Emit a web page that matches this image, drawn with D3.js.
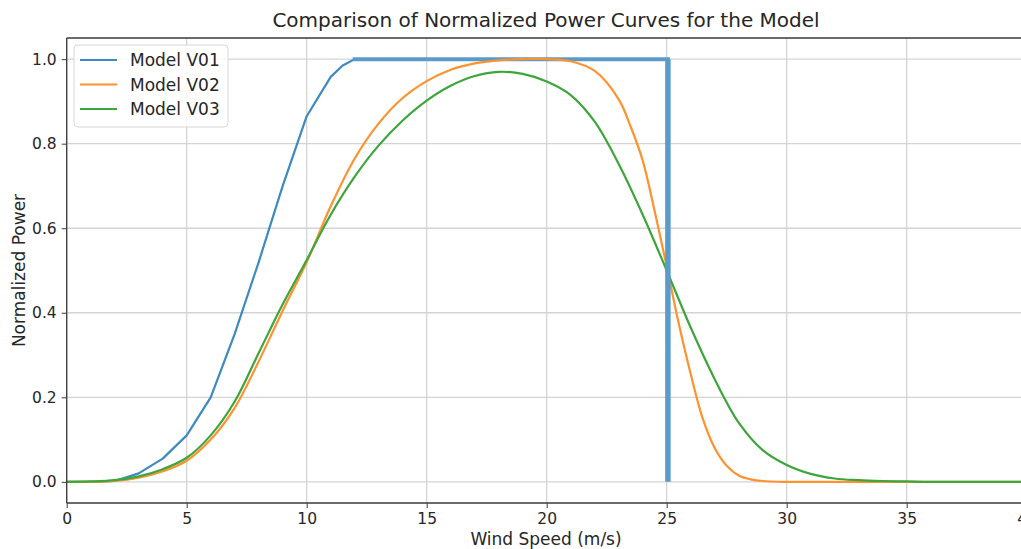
<!DOCTYPE html>
<html>
<head>
<meta charset="utf-8">
<script src="https://cdn.jsdelivr.net/npm/d3@7"></script>
<style>
  html, body { margin: 0; padding: 0; background: #fff; overflow: hidden; }
  svg { display: block; font-family: "DejaVu Sans", sans-serif; }
  .axis text { fill: #262626; font-size: 15.5px; font-family: "DejaVu Sans", sans-serif; }
  .axis .domain { display: none; }
  .axis .tick line { stroke: #3a3a3a; stroke-width: 1; }
  .grid line { stroke: #d4d4d4; stroke-width: 1.3; }
  .spine { stroke: #3a3a3a; stroke-width: 1.3; }
  .label { fill: #262626; font-size: 17px; }
  .title { fill: #262626; font-size: 20px; }
  .legend-text { fill: #262626; font-size: 17px; }
</style>
</head>
<body>
<svg id="chart"></svg>
<script>
const TITLE = "Comparison of Normalized Power Curves for the Model";
const X_LABEL = "Wind Speed (m/s)";
const Y_LABEL = "Normalized Power";

const SERIES_NAMES = ["Model V01", "Model V02", "Model V03"];
const SERIES_COLORS = ["#3d8ac2", "#ff922f", "#3ca63c"];

const X_TICKS = [0, 5, 10, 15, 20, 25, 30, 35, 40];
const Y_TICKS = [0.0, 0.2, 0.4, 0.6, 0.8, 1.0];

// Model V01: piecewise ramp, rated plateau, hard cut-out
const V01_SPEED = [0, 1, 2, 3, 4, 5, 6, 7, 8, 9, 10, 11, 11.5, 12, 25.05, 25.05];
const V01_POWER = [0, 0, 0.002, 0.02, 0.055, 0.11, 0.2, 0.35, 0.52, 0.7, 0.865, 0.958, 0.985, 1.0, 1.0, 0];

// Model V02: flat-topped curve
const V02_SPEED = [0, 1, 2, 3, 4, 5, 6, 7, 8, 9, 10, 11, 12, 13, 14, 15, 16, 17, 18, 19, 20, 21, 22, 23, 23.5, 24, 24.5, 25, 25.5, 26, 26.5, 27, 27.5, 28, 28.5, 29, 30, 32, 35, 40];
const V02_POWER = [0, 0, 0.002, 0.01, 0.025, 0.05, 0.1, 0.175, 0.285, 0.405, 0.52, 0.652, 0.765, 0.848, 0.908, 0.948, 0.975, 0.99, 0.997, 1.0, 1.0, 0.995, 0.972, 0.905, 0.84, 0.76, 0.64, 0.51, 0.375, 0.255, 0.15, 0.08, 0.038, 0.015, 0.006, 0.002, 0, 0, 0, 0];

// Model V03: bell-shaped curve
const V03_SPEED = [0, 1, 2, 3, 4, 5, 6, 7, 8, 9, 10, 11, 12, 13, 14, 15, 16, 17, 18, 19, 20, 21, 22, 23, 24, 25, 26, 27, 28, 29, 30, 31, 32, 33, 34, 35, 36, 38, 40];
const V03_POWER = [0, 0.001, 0.004, 0.013, 0.03, 0.057, 0.11, 0.19, 0.305, 0.42, 0.525, 0.632, 0.722, 0.796, 0.855, 0.902, 0.937, 0.96, 0.97, 0.965, 0.947, 0.915, 0.852, 0.752, 0.632, 0.5, 0.365, 0.243, 0.14, 0.075, 0.04, 0.019, 0.008, 0.004, 0.002, 0.001, 0, 0, 0];

const width = 1021;
const height = 549;
const margin = { top: 38, left: 66.7, bottom: 46 };
const plotW = 960;
const plotH = height - margin.top - margin.bottom;

const svg = d3.select("#chart").attr("width", width).attr("height", height);

const x = d3.scaleLinear().domain([0, 40]).range([margin.left, margin.left + plotW]);
const y = d3.scaleLinear().domain([-0.05, 1.05]).range([margin.top + plotH, margin.top]);

const toPoints = (xs, ys) => xs.map((s, i) => ({ x: s, y: ys[i] }));
const v01 = toPoints(V01_SPEED, V01_POWER);
const v02 = toPoints(V02_SPEED, V02_POWER);
const v03 = toPoints(V03_SPEED, V03_POWER);

// grid
svg.append("g").attr("class", "grid")
  .selectAll("line.v").data(X_TICKS).join("line")
  .attr("x1", d => x(d)).attr("x2", d => x(d))
  .attr("y1", y(1.05)).attr("y2", y(-0.05));
svg.append("g").attr("class", "grid")
  .selectAll("line.h").data(Y_TICKS).join("line")
  .attr("x1", x(0)).attr("x2", x(40))
  .attr("y1", d => y(d)).attr("y2", d => y(d));

// axes
svg.append("g").attr("class", "axis")
  .attr("transform", `translate(0,${y(-0.05)})`)
  .call(d3.axisBottom(x).tickValues(X_TICKS).tickFormat(d3.format("d")).tickSize(5).tickPadding(5));
svg.append("g").attr("class", "axis")
  .attr("transform", `translate(${x(0)},0)`)
  .call(d3.axisLeft(y).tickValues(Y_TICKS).tickFormat(d3.format(".1f")).tickSize(5).tickPadding(5));

// lines
const plot = svg.append("g");
const linear = d3.line().x(d => x(d.x)).y(d => y(d.y));
const smooth = d3.line().x(d => x(d.x)).y(d => y(d.y)).curve(d3.curveCatmullRom.alpha(0.5));

const ratedIdx = V01_POWER.indexOf(1.0);
const cutIdx = V01_POWER.lastIndexOf(1.0);

plot.append("path").datum(v01.slice(0, ratedIdx + 1))
  .attr("fill", "none").attr("stroke", SERIES_COLORS[0]).attr("stroke-width", 2.2)
  .attr("stroke-linejoin", "round").attr("d", linear);
plot.append("path").datum(v01.slice(ratedIdx, cutIdx + 1))
  .attr("fill", "none").attr("stroke", "#5b9bca").attr("stroke-width", 4)
  .attr("stroke-linecap", "square").attr("d", linear);

plot.append("path").datum(v02)
  .attr("fill", "none").attr("stroke", SERIES_COLORS[1]).attr("stroke-width", 2.2)
  .attr("d", smooth);
plot.append("path").datum(v03)
  .attr("fill", "none").attr("stroke", SERIES_COLORS[2]).attr("stroke-width", 2.2)
  .attr("d", smooth);

plot.append("path").datum(v01.slice(cutIdx))
  .attr("fill", "none").attr("stroke", "#5b9bca").attr("stroke-width", 5.5)
  .attr("d", linear);

// spines
svg.append("line").attr("class", "spine")
  .attr("x1", x(0)).attr("x2", x(0)).attr("y1", y(1.05)).attr("y2", y(-0.05));
svg.append("line").attr("class", "spine")
  .attr("x1", x(0)).attr("x2", width).attr("y1", y(-0.05)).attr("y2", y(-0.05));
svg.append("line").attr("class", "spine")
  .attr("x1", x(0)).attr("x2", width).attr("y1", y(1.05)).attr("y2", y(1.05));

// labels
svg.append("text").attr("class", "title")
  .attr("x", 546).attr("y", 27).attr("text-anchor", "middle").text(TITLE);
svg.append("text").attr("class", "label")
  .attr("x", 546).attr("y", 545).attr("text-anchor", "middle").text(X_LABEL);
svg.append("text").attr("class", "label")
  .attr("transform", `translate(25,${y(0.5)}) rotate(-90)`)
  .attr("text-anchor", "middle").text(Y_LABEL);

// legend
const legend = svg.append("g").attr("transform", "translate(74,45)");
legend.append("rect")
  .attr("width", 154).attr("height", 82).attr("rx", 4)
  .attr("fill", "#fff").attr("fill-opacity", 0.85)
  .attr("stroke", "#d8d8d8").attr("stroke-width", 1);
const items = legend.selectAll("g.item").data(SERIES_NAMES).join("g")
  .attr("class", "item")
  .attr("transform", (d, i) => `translate(0,${15 + i * 24.5})`);
items.append("line")
  .attr("x1", 6).attr("x2", 43)
  .attr("stroke", (d, i) => SERIES_COLORS[i]).attr("stroke-width", 2.2);
items.append("text").attr("class", "legend-text")
  .attr("x", 56).attr("y", 6).text(d => d);
</script>
</body>
</html>
